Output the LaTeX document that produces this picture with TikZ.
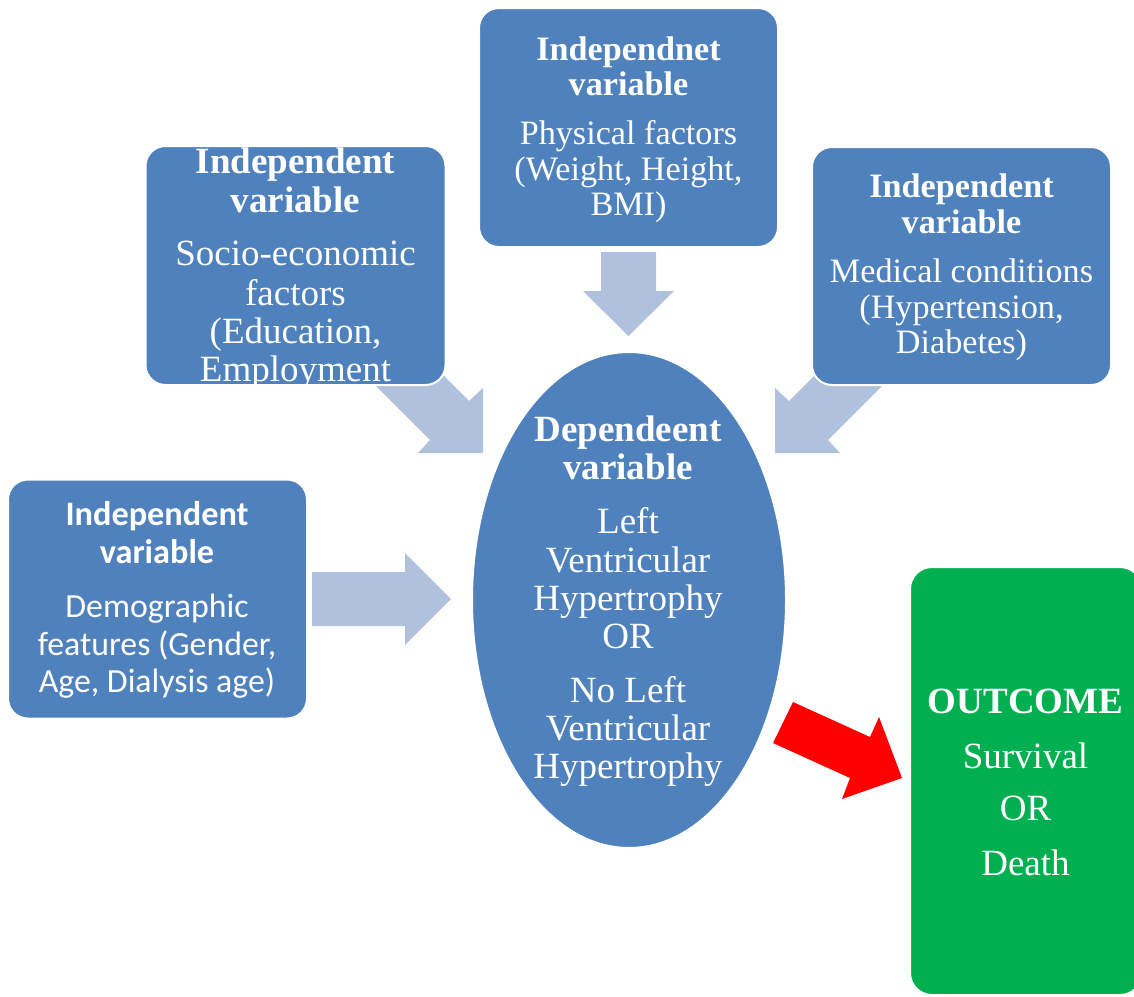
\documentclass[tikz,border=0pt]{standalone}
\usepackage{fontspec}
\usetikzlibrary{shapes.geometric}
\setmainfont{Liberation Serif}
\newfontfamily\calibrifont{Carlito}
\definecolor{boxblue}{RGB}{79,129,189}
\definecolor{arrowblue}{RGB}{176,193,222}
\definecolor{outgreen}{RGB}{0,176,80}
\definecolor{redarrow}{RGB}{255,0,0}
\begin{document}
\begin{tikzpicture}[x=1pt,y=-1pt,
  vbox/.style={draw=white, line width=2pt, fill=boxblue, rounded corners=20pt, inner sep=0, rectangle},
  gbox/.style={draw=white, line width=2pt, fill=outgreen, rounded corners=22pt, inner sep=0, rectangle},
  lbl/.style={anchor=base, text=white, inner sep=0},
  blockarrow/.style={fill=arrowblue},
]
\useasboundingbox (0,0) rectangle (1134,996);

% block arrows (drawn first, tails hidden under boxes)
\fill[blockarrow] (404,336) -- (469,401) -- (483,388) -- (483,453) -- (418,453) -- (430,440) -- (365,375) -- cycle;
\fill[blockarrow] (854,336) -- (789,401) -- (775,388) -- (775,453) -- (840,453) -- (828,440) -- (893,375) -- cycle;
\fill[blockarrow] (601,252) -- (656,252) -- (656,291) -- (674,291) -- (628.5,336) -- (583,291) -- (601,291) -- cycle;
\fill[blockarrow] (312,572) -- (405,572) -- (405,553) -- (451,599) -- (405,645) -- (405,626) -- (312,626) -- cycle;
\fill[redarrow] (793,702) -- (870,737) -- (879,717) -- (902,778) -- (842,799) -- (850,778) -- (773,743) -- cycle;

% boxes
\node[vbox, minimum width=299pt, minimum height=239pt] (demo) at (157.5,599) {};
\node[vbox, minimum width=300pt, minimum height=239pt] (socio) at (295.5,265.5) {};
\node[vbox, minimum width=299pt, minimum height=239pt] (phys) at (628.5,127.5) {};
\node[vbox, minimum width=299pt, minimum height=238pt] (med) at (961.5,266) {};
\node[draw=white, line width=2pt, fill=boxblue, ellipse, minimum width=314pt, minimum height=496pt, inner sep=0] (dep) at (629,600) {};
\node[gbox, minimum width=232pt, minimum height=428pt] (out) at (1026,781) {};

% texts
\begin{scope}[every node/.append style={font=\calibrifont\fontsize{33.8}{38}\selectfont}]
\foreach \t/\y [count=\i] in {{\bfseries\fontsize{34.3}{38}\selectfont Independent}/525,{\bfseries\fontsize{34.3}{38}\selectfont variable}/563,{Demographic}/617,{features (Gender,}/655,{Age, Dialysis age)}/692}
  \node[lbl] (demo-\i) at (157,\y) {\t};
\end{scope}
\begin{scope}[every node/.append style={font=\fontsize{37}{40}\selectfont}]
\foreach \t/\y [count=\i] in {{\bfseries Independent}/173,{\bfseries variable}/212,{Socio-economic}/265,{factors}/305,{(Education,}/343,{Employment}/381}
  \node[lbl] (socio-\i) at (295.5,\y) {\t};
\end{scope}
\begin{scope}[every node/.append style={font=\fontsize{34.2}{37}\selectfont}]
\foreach \t/\y [count=\i] in {{\bfseries Independnet}/60,{\bfseries variable}/95,{Physical factors}/144,{(Weight, Height,}/180,{BMI)}/215}
  \node[lbl] (phys-\i) at (628.5,\y) {\t};
\foreach \t/\y [count=\i] in {{\bfseries Independent}/197,{\bfseries variable}/233,{Medical conditions}/282,{(Hypertension,}/318,{Diabetes)}/353}
  \node[lbl] (med-\i) at (961.5,\y) {\t};
\end{scope}
\begin{scope}[every node/.append style={font=\fontsize{37}{40}\selectfont}]
\foreach \t/\y [count=\i] in {{\bfseries Dependeent}/441,{\bfseries variable}/479,{Left}/533,{Ventricular}/572,{Hypertrophy}/610,{OR}/648,{No Left}/702,{Ventricular}/740,{Hypertrophy}/778}
  \node[lbl] (dep-\i) at (628,\y) {\t};
\foreach \t/\y [count=\i] in {{\bfseries OUTCOME}/713,{Survival}/768,{OR}/820,{Death}/875}
  \node[lbl] (out-\i) at (1025.5,\y) {\t};
\end{scope}
\end{tikzpicture}
\end{document}
